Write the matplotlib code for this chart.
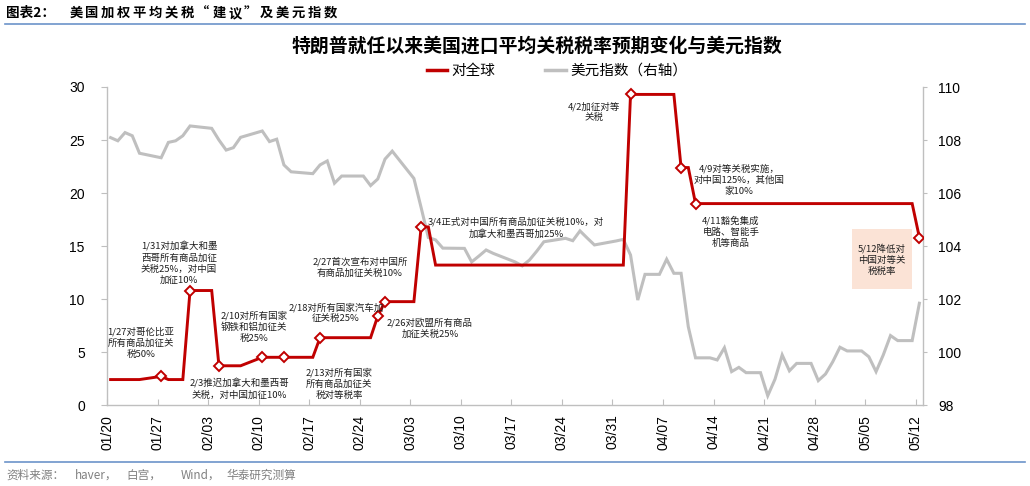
import matplotlib
matplotlib.use('Agg')
import matplotlib.pyplot as plt
from matplotlib.lines import Line2D
from matplotlib.patches import Rectangle
import pandas as pd

plt.rcParams['font.family'] = ['Noto Sans CJK SC', 'DejaVu Sans']

# ---------------- data ----------------
tariff_dates = ['2025-01-20', '2025-01-24', '2025-01-27', '2025-01-28', '2025-01-30',
                '2025-01-31', '2025-02-03', '2025-02-04', '2025-02-07', '2025-02-10',
                '2025-02-13', '2025-02-17', '2025-02-18', '2025-02-25', '2025-02-26',
                '2025-02-27', '2025-03-03', '2025-03-04', '2025-03-05', '2025-03-06',
                '2025-04-01', '2025-04-02', '2025-04-08', '2025-04-09', '2025-04-10',
                '2025-04-11', '2025-05-11', '2025-05-12']
tariff_values = [2.4, 2.4, 2.7, 2.4, 2.4,
                 10.8, 10.8, 3.7, 3.7, 4.5,
                 4.5, 4.5, 6.35, 6.35, 8.4,
                 9.75, 9.75, 16.8, 16.8, 13.2,
                 13.2, 29.3, 29.3, 22.4, 22.4,
                 19.0, 19.0, 15.8]
marker_dates = ['2025-01-27', '2025-01-31', '2025-02-04', '2025-02-10', '2025-02-13',
                '2025-02-18', '2025-02-26', '2025-02-27', '2025-03-04', '2025-04-02',
                '2025-04-09', '2025-04-11', '2025-05-12']

dxy_dates = ['2025-01-20', '2025-01-21', '2025-01-22', '2025-01-23', '2025-01-24',
             '2025-01-27', '2025-01-28', '2025-01-29', '2025-01-30', '2025-01-31',
             '2025-02-03', '2025-02-04', '2025-02-05', '2025-02-06', '2025-02-07',
             '2025-02-10', '2025-02-11', '2025-02-12', '2025-02-13', '2025-02-14',
             '2025-02-17', '2025-02-18', '2025-02-19', '2025-02-20', '2025-02-21',
             '2025-02-24', '2025-02-25', '2025-02-26', '2025-02-27', '2025-02-28',
             '2025-03-03', '2025-03-04', '2025-03-05', '2025-03-06', '2025-03-07',
             '2025-03-10', '2025-03-11', '2025-03-12', '2025-03-13', '2025-03-14',
             '2025-03-17', '2025-03-18', '2025-03-19', '2025-03-20', '2025-03-21',
             '2025-03-24', '2025-03-25', '2025-03-26', '2025-03-27', '2025-03-28',
             '2025-03-31', '2025-04-01', '2025-04-02', '2025-04-03', '2025-04-04',
             '2025-04-05', '2025-04-06', '2025-04-07', '2025-04-08', '2025-04-09',
             '2025-04-10', '2025-04-11', '2025-04-12', '2025-04-13', '2025-04-14',
             '2025-04-15', '2025-04-16', '2025-04-17', '2025-04-18', '2025-04-19',
             '2025-04-20', '2025-04-21', '2025-04-22', '2025-04-23', '2025-04-24',
             '2025-04-25', '2025-04-26', '2025-04-27', '2025-04-28', '2025-04-29',
             '2025-04-30', '2025-05-01', '2025-05-02', '2025-05-03', '2025-05-04',
             '2025-05-05', '2025-05-06', '2025-05-07', '2025-05-08', '2025-05-09',
             '2025-05-10', '2025-05-11', '2025-05-12']
dxy_values = [108.09, 107.97, 108.28, 108.16, 107.50,
              107.33, 107.91, 107.97, 108.16, 108.53,
              108.44, 108.00, 107.62, 107.71, 108.10,
              108.34, 107.94, 108.03, 107.06, 106.80,
              106.73, 107.06, 107.21, 106.37, 106.64,
              106.64, 106.28, 106.53, 107.28, 107.58,
              106.55, 105.45, 104.32, 104.23, 103.92,
              103.91, 103.40, 103.62, 103.85, 103.72,
              103.40, 103.25, 103.47, 103.80, 104.16,
              104.29, 104.20, 104.57, 104.30, 104.04,
              104.19, 104.25, 103.66, 101.96, 102.93,
              102.93, 102.93, 103.50, 102.97, 102.97,
              100.95, 99.78, 99.78, 99.78, 99.70,
              100.16, 99.26, 99.42, 99.22, 99.22,
              99.22, 98.35, 98.97, 99.89, 99.29,
              99.57, 99.57, 99.57, 98.92, 99.17,
              99.63, 100.18, 100.04, 100.04, 100.04,
              99.82, 99.26, 99.89, 100.62, 100.43,
              100.43, 100.43, 101.84]

xtick_labels = ['01/20', '01/27', '02/03', '02/10', '02/17', '02/24', '03/03', '03/10',
                '03/17', '03/24', '03/31', '04/07', '04/14', '04/21', '04/28', '05/05', '05/12']

series_names = ['对全球', '美元指数（右轴）']

annotations = [
    (141, 343, '1/27对哥伦比亚\n所有商品加征关\n税50%'),
    (179, 263, '1/31对加拿大和墨\n西哥所有商品加征\n关税25%，对中国\n加征10%'),
    (239, 389, '2/3推迟加拿大和墨西哥\n关税，对中国加征10%'),
    (254, 327, '2/10对所有国家\n钢铁和铝加征关\n税25%'),
    (339, 384, '2/13对所有国家\n所有商品加征关\n税对等税率'),
    (336, 313, '2/18对所有国家汽车加\n征关税25%'),
    (360, 267, '2/27首次宣布对中国所\n有商品加征关税10%'),
    (430, 328, '2/26对欧盟所有商品\n加征关税25%'),
    (516, 228, '3/4正式对中国所有商品加征关税10%，对\n加拿大和墨西哥加25%'),
    (594, 112, '4/2加征对等\n关税'),
    (739, 180, '4/9对等关税实施，\n对中国125%，其他国\n家10%'),
    (731, 232, '4/11豁免集成\n电路、智能手\n机等商品'),
]
box_note = '5/12降低对\n中国对等关\n税税率'

header_label = '图表2：'
header_text = '美国加权平均关税“建议”及美元指数'
source_parts = [(6, '资料来源：'), (75, 'haver，'), (126, '白宫，'), (181, 'Wind，'), (226, '华泰研究测算')]

# ---------------- figure ----------------
W, H = 1030, 486
fig = plt.figure(figsize=(W / 100, H / 100), dpi=100)

def fx(px):
    return px / W

def fy(py):
    return 1 - py / H

ax = fig.add_axes([fx(107), fy(405), fx(923) - fx(107), fy(87) - fy(405)])
ax2 = ax.twinx()
ax.set_zorder(ax2.get_zorder() + 1)
ax.patch.set_visible(False)

red = '#C00000'
grey = '#BFBFBF'
spine_c = '#BFBFBF'

t_dates = pd.to_datetime(tariff_dates)
m_dates = set(pd.to_datetime(marker_dates))
mark_idx = [i for i, d in enumerate(t_dates) if d in m_dates]
d_dates = pd.to_datetime(dxy_dates)

ax2.plot(d_dates, dxy_values, color=grey, lw=2.2, solid_joinstyle='miter')
ax.plot(t_dates, tariff_values, color=red, lw=2.1, marker='D', markevery=mark_idx,
        markersize=5.5, markerfacecolor='white', markeredgecolor=red, markeredgewidth=1.4,
        solid_joinstyle='miter')

ax.set_ylim(0, 30)
ax.set_yticks(range(0, 31, 5))
ax2.set_ylim(98, 110)
ax2.set_yticks(range(98, 111, 2))

tick_pos = [pd.Timestamp('2025/' + s) - pd.Timedelta(hours=12) for s in xtick_labels]
ax.set_xticks(tick_pos)
ax.set_xticklabels(xtick_labels, rotation=90)
ax.set_xlim(pd.Timestamp('2025-01-20') - pd.Timedelta(hours=12),
            pd.Timestamp('2025-05-12') + pd.Timedelta(hours=12))

for a in (ax, ax2):
    for s in a.spines.values():
        s.set_color(spine_c)
        s.set_linewidth(1.0)
    a.spines['top'].set_visible(False)
ax.spines['right'].set_visible(False)
ax2.spines['left'].set_visible(False)
ax2.spines['bottom'].set_visible(False)

tick_family = ['Liberation Sans', 'DejaVu Sans']
ax.tick_params(axis='y', direction='out', length=4, color=spine_c, pad=12)
ax.tick_params(axis='x', direction='in', length=4, color=spine_c, pad=7)
ax2.tick_params(axis='y', direction='out', length=3, color=spine_c, pad=8)
for lab in ax.get_xticklabels() + ax.get_yticklabels() + ax2.get_yticklabels():
    lab.set_fontfamily(tick_family)
    lab.set_fontsize(10)
    lab.set_color('black')

# annotations
ann_kw = dict(ha='center', va='center', fontsize=6.8, color='#1F1F1F',
              linespacing=1.3, multialignment='center')
for px, py, s in annotations:
    fig.text(fx(px), fy(py), s, **ann_kw)

fig.patches.append(Rectangle((fx(852), fy(289)), fx(912) - fx(852), fy(229) - fy(289),
                             transform=fig.transFigure, facecolor='#FBE3D6',
                             edgecolor='none', zorder=0))
fig.text(fx(882), fy(260), box_note, **ann_kw)

# legend
handles = [Line2D([], [], color=red, lw=2.5), Line2D([], [], color=grey, lw=2.5)]
fig.legend(handles, series_names, loc='center', bbox_to_anchor=(fx(557), fy(71)),
           ncol=2, frameon=False, fontsize=10.5, handlelength=1.4, handletextpad=0.3,
           columnspacing=3.4)

# titles
fig.text(fx(537), fy(46), '特朗普就任以来美国进口平均关税税率预期变化与美元指数',
         ha='center', va='center', fontsize=13.6, fontweight='bold', color='black')
fig.text(fx(6), fy(13), header_label, ha='left', va='center', fontsize=9.8,
         fontweight='bold', color='black')
pitch = (338 - 68) / len(header_text)
for i, ch in enumerate(header_text):
    fig.text(fx(68 + (i + 0.5) * pitch), fy(13), ch, ha='center', va='center',
             fontsize=9.6, fontweight='bold', color='black')
for px, s in source_parts:
    fig.text(fx(px), fy(475), s, ha='left', va='center', fontsize=8.4, color='#808080')

# framing lines
blue = '#6C93C9'
fig.add_artist(Line2D([fx(5), fx(1025)], [fy(24), fy(24)], color=blue, lw=1.2,
                      transform=fig.transFigure))
fig.add_artist(Line2D([fx(5), fx(1025)], [fy(462), fy(462)], color=blue, lw=1.2,
                      transform=fig.transFigure))

fig.savefig('out.png', dpi=100)
